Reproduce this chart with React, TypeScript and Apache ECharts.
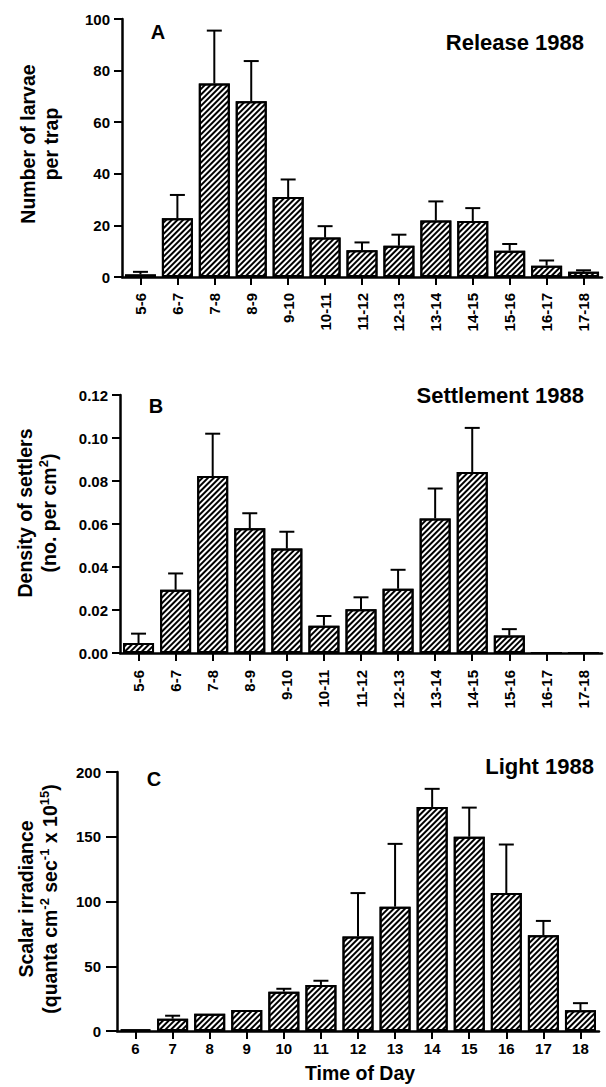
import React, { useEffect, useRef } from 'react';
import * as echarts from 'echarts';

// ---- data ----
const hourRanges = ['5-6', '6-7', '7-8', '8-9', '9-10', '10-11', '11-12', '12-13', '13-14', '14-15', '15-16', '16-17', '17-18'];
const hours = ['6', '7', '8', '9', '10', '11', '12', '13', '14', '15', '16', '17', '18'];

const releaseMean = [1, 22.8, 75, 68.1, 31, 15.3, 10.4, 12.1, 21.9, 21.7, 10.2, 4.4, 2];
const releaseErrTop = [2, 31.8, 95.5, 83.7, 37.8, 19.7, 13.4, 16.4, 29.3, 26.7, 12.8, 6.4, 2.6];

const settleMean = [0.0046, 0.0294, 0.0823, 0.058, 0.0486, 0.0127, 0.0204, 0.0299, 0.0626, 0.0842, 0.0081, 0, 0];
const settleErrTop = [0.009, 0.037, 0.102, 0.065, 0.0564, 0.0172, 0.0259, 0.0387, 0.0765, 0.1047, 0.0111, null, null];

const lightMean = [1, 9.5, 13.3, 16.3, 30.4, 35.6, 73, 96, 173, 150, 106.5, 74, 16];
const lightErrTop = [null, 11.8, null, null, 32.6, 38.8, 106.5, 144.5, 187, 172.5, 144, 85, 21.5];

const FONT = '"Liberation Sans", Arial, Helvetica, sans-serif';

const hatch: any = {
  symbol: 'rect',
  symbolSize: 1,
  symbolKeepAspect: false,
  color: '#000',
  backgroundColor: '#fff',
  dashArrayX: [1, 0],
  dashArrayY: [1.3, 1.9],
  rotation: -Math.PI / 4,
};

function errData(mean: number[], top: (number | null)[]) {
  const out: number[][] = [];
  mean.forEach((m, i) => {
    const t = top[i];
    if (t != null) out.push([i, m, t]);
  });
  return out;
}

function errSeries(idx: number, mean: number[], top: (number | null)[]) {
  return {
    type: 'custom',
    xAxisIndex: idx,
    yAxisIndex: idx,
    z: 5,
    silent: true,
    encode: { x: 0, y: [1, 2] },
    data: errData(mean, top),
    renderItem: (params: any, api: any) => {
      const x = api.value(0);
      const p1 = api.coord([x, api.value(1)]);
      const p2 = api.coord([x, api.value(2)]);
      return {
        type: 'group',
        children: [
          { type: 'line', shape: { x1: p1[0], y1: p1[1], x2: p2[0], y2: p2[1] }, style: { stroke: '#000', lineWidth: 2 } },
          { type: 'line', shape: { x1: p2[0] - 7.5, y1: p2[1], x2: p2[0] + 7.5, y2: p2[1] }, style: { stroke: '#000', lineWidth: 2 } },
        ],
      };
    },
  };
}

function barSeries(idx: number, mean: number[]) {
  return {
    type: 'bar',
    xAxisIndex: idx,
    yAxisIndex: idx,
    data: mean,
    barWidth: 31,
    silent: true,
    itemStyle: { color: '#fff', borderColor: '#000', borderWidth: 2, decal: hatch },
  };
}

const axisLine = { show: true, onZero: false, lineStyle: { color: '#000', width: 2.5 } };
const labelBase = { color: '#000', fontSize: 15, fontWeight: 'bold', fontFamily: FONT };

function xCat(idx: number, data: string[], rotate: number, margin: number) {
  return {
    type: 'category',
    gridIndex: idx,
    data,
    boundaryGap: true,
    axisLine,
    axisTick: { show: true, alignWithLabel: true, length: 8, lineStyle: { color: '#000', width: 2 } },
    axisLabel: { ...labelBase, rotate, interval: 0, margin },
    splitLine: { show: false },
  };
}

function yVal(idx: number, max: number, interval: number, tickLen: number, margin: number, fmt?: (v: number) => string) {
  return {
    type: 'value',
    gridIndex: idx,
    min: 0,
    max,
    interval,
    axisLine,
    axisTick: { show: true, length: tickLen, lineStyle: { color: '#000', width: 2 } },
    axisLabel: { ...labelBase, margin, formatter: fmt },
    splitLine: { show: false },
  };
}

const titleFont = `bold 19.5px ${FONT}`;
const headFont = `bold 22px ${FONT}`;
const letterFont = `bold 20px ${FONT}`;

function txt(x: number, y: number, text: string, font: string, align = 'center') {
  return { type: 'text', x, y, silent: true, style: { text, font, fill: '#000', align, verticalAlign: 'middle' } };
}

export default function App() {
  const ref = useRef<HTMLDivElement>(null);
  useEffect(() => {
    if (!ref.current) return;
    const chart = echarts.init(ref.current, undefined, { renderer: 'svg' });
    const option: any = {
      animation: false,
      backgroundColor: '#fff',
      grid: [
        { left: 122, top: 19, width: 480, height: 258 },
        { left: 120, top: 395, width: 482, height: 258 },
        { left: 117, top: 772, width: 482, height: 259 },
      ],
      xAxis: [
        xCat(0, hourRanges, 90, 16),
        xCat(1, hourRanges, 90, 17),
        xCat(2, hours, 0, 10),
      ],
      yAxis: [
        yVal(0, 100, 20, 8, 12),
        yVal(1, 0.12, 0.02, 8, 12, (v: number) => v.toFixed(2)),
        yVal(2, 200, 50, 11, 16),
      ],
      series: [
        barSeries(0, releaseMean),
        errSeries(0, releaseMean, releaseErrTop),
        barSeries(1, settleMean),
        errSeries(1, settleMean, settleErrTop),
        barSeries(2, lightMean),
        errSeries(2, lightMean, lightErrTop),
      ],
      graphic: [
        txt(158, 32, 'A', letterFont),
        txt(156, 406, 'B', letterFont),
        txt(154, 779, 'C', letterFont),
        txt(584, 42, 'Release 1988', headFont, 'right'),
        txt(584, 395, 'Settlement 1988', headFont, 'right'),
        txt(594, 766, 'Light 1988', headFont, 'right'),
        txt(360, 1073, 'Time of Day', titleFont),
        {
          type: 'text', x: 39, y: 144, rotation: Math.PI / 2, silent: true,
          style: { text: 'Number of larvae\nper trap', font: titleFont, fill: '#000', align: 'center', verticalAlign: 'middle', lineHeight: 23 },
        },
        {
          type: 'text', x: 37, y: 513, rotation: Math.PI / 2, silent: true,
          style: {
            text: '{a|Density of settlers}\n{a|(no. per cm}{s|2}{a|)}',
            fill: '#000', align: 'center', verticalAlign: 'middle',
            rich: {
              a: { font: titleFont, fill: '#000', lineHeight: 24 },
              s: { font: `bold 13px ${FONT}`, fill: '#000', lineHeight: 10, verticalAlign: 'top' },
            },
          },
        },
        {
          type: 'text', x: 38, y: 899, rotation: Math.PI / 2, silent: true,
          style: {
            text: '{a|Scalar irradiance}\n{a|(quanta cm}{s|-2}{a| sec}{s|-1}{a| x 10}{s|15}{a|)}',
            fill: '#000', align: 'center', verticalAlign: 'middle',
            rich: {
              a: { font: titleFont, fill: '#000', lineHeight: 24 },
              s: { font: `bold 13px ${FONT}`, fill: '#000', lineHeight: 10, verticalAlign: 'top' },
            },
          },
        },
      ],
    };
    chart.setOption(option);
    return () => chart.dispose();
  }, []);
  return <div ref={ref} style={{ position: 'fixed', left: 0, top: 0, width: 606, height: 1087, background: '#fff' }} />;
}
